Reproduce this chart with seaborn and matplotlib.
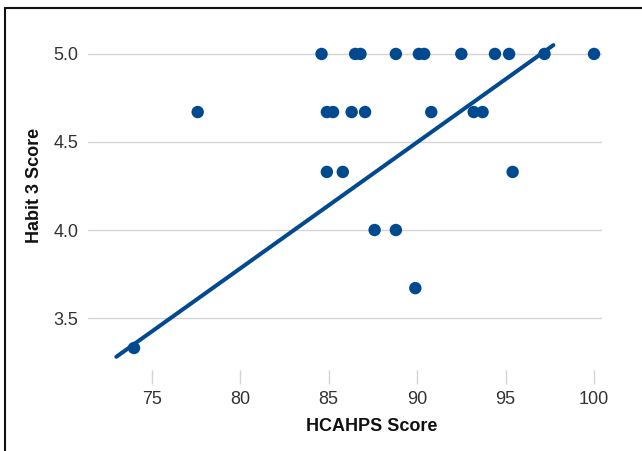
"""
Habit 3 score vs HCAHPS score scatter with trend line.
"""

import matplotlib.pyplot as plt
import pandas as pd
import seaborn as sns
from matplotlib.lines import Line2D

BLUE = "#024a90"
GRID = "#d4d4d4"
TEXT = "#333333"

# HCAHPS score per unit, grouped by habit 3 score
hcahps = [74.0, 77.6,
          84.6, 86.5, 86.8, 88.8, 90.1, 90.4, 92.5, 94.4, 95.2, 97.2, 100.0,
          84.9, 85.25, 86.3, 87.06, 90.8, 93.2, 93.7,
          84.9, 85.8, 95.4,
          87.6, 88.8,
          89.9]
habit3 = [3.33, 4.67,
          5.0, 5.0, 5.0, 5.0, 5.0, 5.0, 5.0, 5.0, 5.0, 5.0, 5.0,
          4.67, 4.67, 4.67, 4.67, 4.67, 4.67, 4.67,
          4.33, 4.33, 4.33,
          4.0, 4.0,
          3.67]

# trend line end points as drawn in the source chart
trend_x = [73.0, 97.7]
trend_y = [3.28, 5.05]

x_ticks = [75, 80, 85, 90, 95, 100]
y_ticks = [3.5, 4.0, 4.5, 5.0]

df = pd.DataFrame({"HCAHPS Score": hcahps, "Habit 3 Score": habit3})
trend = pd.DataFrame({"x": trend_x, "y": trend_y})

sns.set_theme(style="white")
plt.rcParams["font.family"] = ["Liberation Sans", "DejaVu Sans"]

fig = plt.figure(figsize=(6.42, 4.51), dpi=100)
ax = fig.add_axes([88 / 642, 81 / 451, 514 / 642, 340 / 451])

sns.scatterplot(data=df, x="HCAHPS Score", y="Habit 3 Score", ax=ax,
                color=BLUE, s=80, edgecolor="none", zorder=3)
sns.lineplot(data=trend, x="x", y="y", ax=ax, color=BLUE, linewidth=2.9, zorder=4)

ax.set_xlim(71.4, 100.45)
ax.set_ylim(3.205, 5.136)
ax.set_xticks(x_ticks)
ax.set_yticks(y_ticks)
ax.set_xticklabels([str(t) for t in x_ticks])
ax.set_yticklabels([f"{t:.1f}" for t in y_ticks])

ax.yaxis.grid(True, color=GRID, linewidth=1)
ax.xaxis.grid(False)
for side in ax.spines.values():
    side.set_visible(False)

ax.tick_params(axis="x", length=10, width=1, color=GRID, pad=5,
               labelsize=13, labelcolor=TEXT, bottom=True)
ax.tick_params(axis="y", length=0, pad=7, labelsize=13, labelcolor=TEXT)

ax.set_xlabel("HCAHPS Score", fontsize=13, fontweight="bold", color="#111111")
ax.set_ylabel("Habit 3 Score", fontsize=13, fontweight="bold", color="#111111")
ax.xaxis.set_label_coords(0.5525, -0.14)
ax.yaxis.set_label_coords(-0.088, 0.544)

# frame round the figure (left and top only, as cropped in the source)
fig.add_artist(Line2D([5 / 642, 5 / 642], [0, 443 / 451],
                      transform=fig.transFigure, color="#111111", linewidth=1.5))
fig.add_artist(Line2D([5 / 642, 1], [443 / 451, 443 / 451],
                      transform=fig.transFigure, color="#111111", linewidth=1.5))

fig.savefig("out.png", dpi=100)
plt.close(fig)
